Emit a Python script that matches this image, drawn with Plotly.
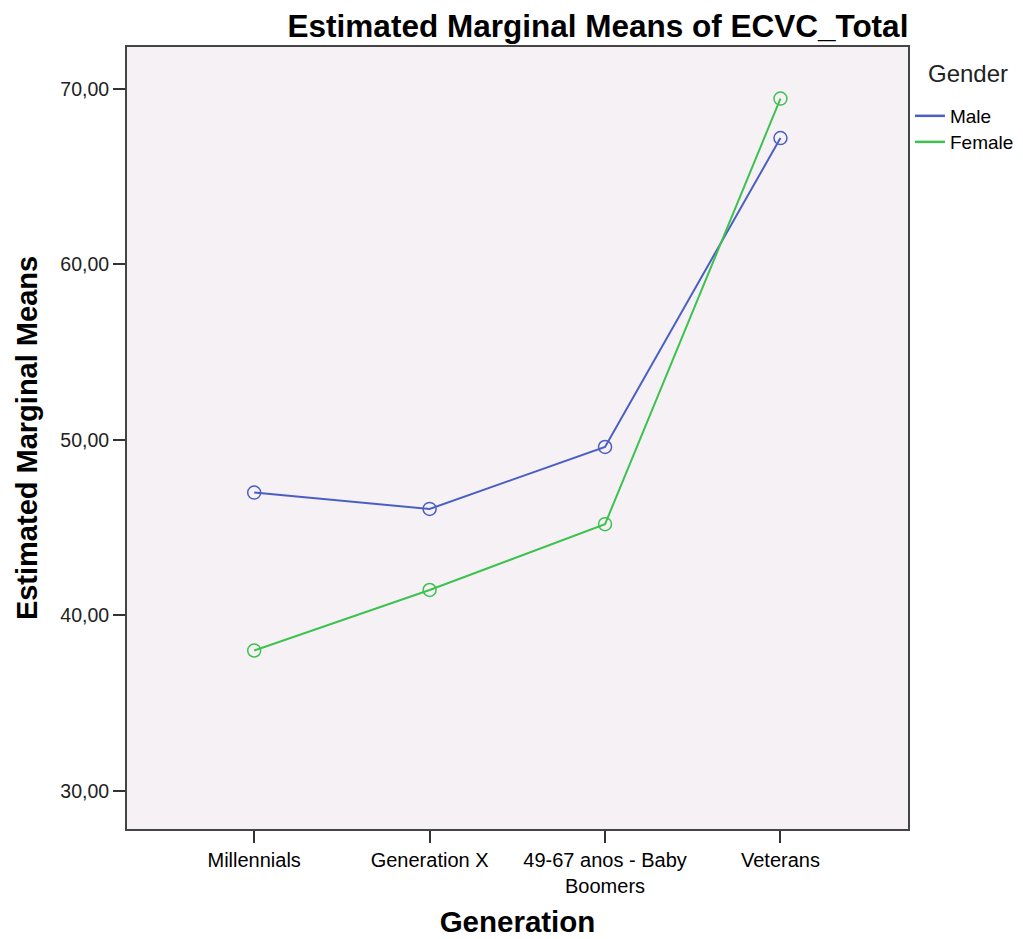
import plotly.graph_objects as go

categories = ["Millennials", "Generation X", "49-67 anos - Baby<br>Boomers", "Veterans"]
male = [47.0, 46.07, 49.6, 67.2]
female = [38.0, 41.45, 45.2, 69.45]
y_ticks = [30, 40, 50, 60, 70]
y_ticktext = ["30,00", "40,00", "50,00", "60,00", "70,00"]

BLUE = "#4A5FC4"
GREEN = "#3CC24E"
FONT = "Liberation Sans, Arial, sans-serif"

x = list(range(len(categories)))

fig = go.Figure()
fig.add_trace(go.Scatter(x=x, y=male, mode="lines+markers", name="Male", showlegend=False,
                         line=dict(color=BLUE, width=2),
                         marker=dict(symbol="circle-open", size=13, color=BLUE, line=dict(width=1.5))))
fig.add_trace(go.Scatter(x=x, y=female, mode="lines+markers", name="Female", showlegend=False,
                         line=dict(color=GREEN, width=2),
                         marker=dict(symbol="circle-open", size=13, color=GREEN, line=dict(width=1.5))))
# legend entries (line only, as in the reference)
fig.add_trace(go.Scatter(x=[None], y=[None], mode="lines", name="Male", legend="legend",
                         line=dict(color=BLUE, width=2.5)))
fig.add_trace(go.Scatter(x=[None], y=[None], mode="lines", name="Female", legend="legend2",
                         line=dict(color=GREEN, width=2.5)))

fig.add_annotation(text="Gender", x=1.0768, y=0.9655, xref="paper", yref="paper",
                   xanchor="center", yanchor="middle", showarrow=False,
                   font=dict(size=24, family=FONT, color="#222222"))

leg_common = dict(x=1.0025, xanchor="left", yanchor="middle",
                  font=dict(size=19, family=FONT, color="black"),
                  bgcolor="rgba(0,0,0,0)", itemwidth=30)

fig.update_layout(
    width=1023, height=939,
    margin=dict(l=119, r=123, t=39, b=118, autoexpand=False),
    paper_bgcolor="white",
    plot_bgcolor="#F6F1F5",
    font=dict(family=FONT, color="black"),
    title=dict(text="<b>Estimated Marginal Means of ECVC_Total</b>",
               font=dict(size=31.5, family=FONT, color="black"),
               x=590/1023, xanchor="center", xref="container",
               y=1-18/939, yanchor="middle", yref="container"),
    showlegend=True,
    legend=dict(y=0.9118, **leg_common),
    legend2=dict(y=0.8785, **leg_common),
    xaxis=dict(tickmode="array", tickvals=x, ticktext=categories,
               range=[-0.725, 3.727],
               showgrid=False, zeroline=False,
               showline=True, linecolor="#444444", linewidth=2, mirror=True,
               ticks="outside", ticklen=12, tickcolor="#333333", tickwidth=1.5,
               tickfont=dict(size=20, family=FONT, color="black"),
               title=dict(text="<b>Generation</b>", font=dict(size=29.5, family=FONT, color="black"),
                          standoff=15)),
    yaxis=dict(tickmode="array", tickvals=y_ticks, ticktext=y_ticktext,
               range=[27.83, 72.39],
               showgrid=False, zeroline=False,
               showline=True, linecolor="#444444", linewidth=2, mirror=True,
               ticks="outside", ticklen=12, tickcolor="#333333", tickwidth=1.5,
               tickfont=dict(size=19.5, family=FONT, color="#222222"),
               title=dict(text="<b>Estimated Marginal Means</b>", font=dict(size=29, family=FONT, color="black"),
                          standoff=14)),
)

fig.write_html("out.html")
